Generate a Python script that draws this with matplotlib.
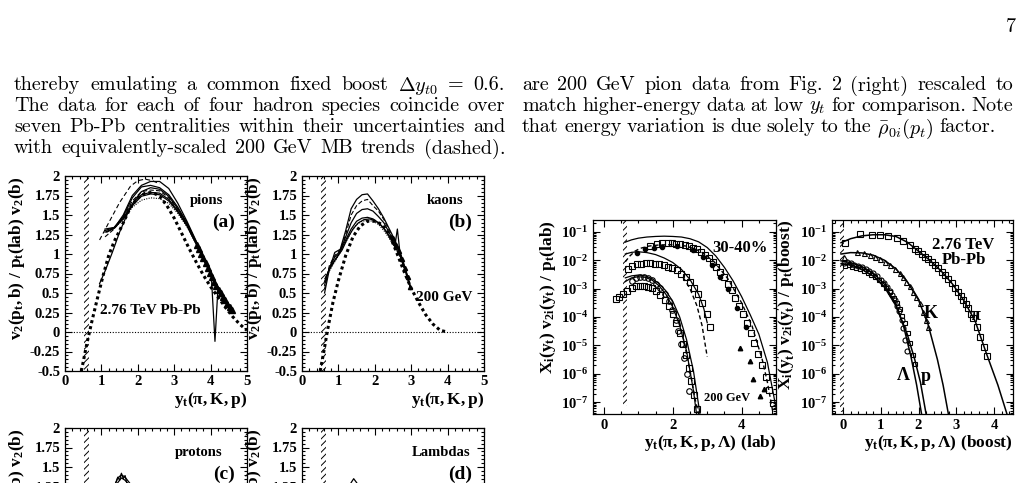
import matplotlib
matplotlib.use("Agg")
import matplotlib.pyplot as plt
import numpy as np
from matplotlib.ticker import MultipleLocator, FixedLocator, FixedFormatter, LogLocator, NullFormatter, FuncFormatter
from matplotlib.patches import Rectangle

# ------------------------------------------------------------------ text
page_number = "7"
left_text = [
    r"thereby emulating a common fixed boost $\Delta{}y_{t0}$ = 0.6.",
    "The data for each of four hadron species coincide over",
    "seven Pb-Pb centralities within their uncertainties and",
    "with equivalently-scaled 200 GeV MB trends (dashed).",
]
right_text = [
    "are 200 GeV pion data from Fig. 2 (right) rescaled to",
    r"match higher-energy data at low $y_t$ for comparison. Note",
    r"that energy variation is due solely to the $\bar{\rho}_{0i}(p_t)$ factor.",
]

# ------------------------------------------------------------------ panel (a) pions
pi_x = [1.10, 1.35, 1.60, 1.85, 2.10, 2.35, 2.60, 2.85, 3.10, 3.35, 3.60, 3.85, 4.10, 4.35, 4.60]
pi_c1 = [1.28, 1.33, 1.50, 1.75, 1.88, 1.93, 1.93, 1.84, 1.65, 1.42, 1.17, 0.92, 0.66, 0.46, 0.29]
pi_c2 = [1.30, 1.34, 1.48, 1.72, 1.86, 1.88, 1.85, 1.76, 1.60, 1.40, 1.16, 0.91, 0.66, 0.45, 0.28]
pi_c3 = [1.22, 1.32, 1.47, 1.68, 1.80, 1.82, 1.81, 1.72, 1.57, 1.38, 1.15, 0.90, 0.65, 0.45, 0.28]
pi_c4 = [1.32, 1.34, 1.46, 1.64, 1.76, 1.79, 1.78, 1.70, 1.55, 1.37, 1.14, 0.90, 0.65, 0.45, 0.27]
pi_c6 = [1.30, 1.33, 1.44, 1.60, 1.69, 1.72, 1.71, 1.65, 1.52, 1.35, 1.13, 0.89, 0.64, 0.44, 0.27]
pi_x5 = [1.15, 1.35, 1.60, 1.85, 2.10, 2.35, 2.60, 2.85, 3.10, 3.35, 3.60, 3.85, 4.02, 4.12, 4.20, 4.35, 4.60]
pi_c5 = [1.28, 1.33, 1.45, 1.62, 1.74, 1.77, 1.76, 1.68, 1.54, 1.36, 1.13, 0.89, 0.72, -0.12, 0.55, 0.44, 0.27]
pi_x7 = [0.95, 1.10, 1.30, 1.50, 1.70, 1.90, 2.10, 2.35, 2.60, 2.85, 3.10, 3.35, 3.60, 3.85, 4.10, 4.35, 4.60]
pi_c7 = [0.62, 0.78, 1.02, 1.28, 1.50, 1.68, 1.80, 1.85, 1.83, 1.74, 1.58, 1.39, 1.15, 0.90, 0.65, 0.45, 0.28]
pi_dash_x = [0.95, 1.20, 1.50, 1.80, 2.00, 2.20, 2.40, 2.60]
pi_dash_y = [1.18, 1.40, 1.66, 1.87, 1.94, 1.96, 1.94, 1.90]
pi_mb_x = [0.45, 0.60, 0.75, 0.90, 1.05, 1.20, 1.35, 1.50, 1.60, 1.80, 2.00, 2.20, 2.40, 2.60, 2.80,
           3.00, 3.20, 3.40, 3.60, 3.80, 4.00, 4.20, 4.40, 4.60, 4.80, 5.00]
pi_mb_y = [-0.50, -0.15, 0.16, 0.45, 0.73, 0.98, 1.16, 1.30, 1.40, 1.60, 1.72, 1.78, 1.79, 1.74, 1.62,
           1.46, 1.27, 1.08, 0.90, 0.73, 0.58, 0.45, 0.32, 0.20, 0.10, 0.02]
pi_tri_x = [3.62, 3.68, 3.74, 3.80, 3.86, 3.92, 3.98, 4.04, 4.10, 4.16, 4.22, 4.28, 4.34, 4.40, 4.46, 4.52, 4.58]
pi_tri_y = [1.12, 1.06, 1.00, 0.95, 0.88, 0.82, 0.76, 0.70, 0.64, 0.59, 0.54, 0.50, 0.45, 0.41, 0.36, 0.32, 0.28]

# ------------------------------------------------------------------ panel (b) kaons
k_x = [0.62, 0.75, 0.90, 1.05, 1.20, 1.35, 1.50, 1.65, 1.80, 1.95, 2.10, 2.25, 2.40, 2.55, 2.70, 2.85, 2.98]
k_c1 = [0.50, 0.80, 1.02, 1.06, 1.30, 1.58, 1.70, 1.76, 1.77, 1.68, 1.58, 1.46, 1.32, 1.18, 1.02, 0.80, 0.58]
k_c2 = [0.55, 0.85, 0.98, 1.05, 1.25, 1.50, 1.62, 1.68, 1.70, 1.62, 1.55, 1.44, 1.30, 1.16, 1.00, 0.79, 0.57]
k_c3 = [0.60, 0.82, 0.96, 1.04, 1.22, 1.40, 1.52, 1.57, 1.58, 1.55, 1.48, 1.40, 1.27, 1.14, 0.99, 0.78, 0.57]
k_c4 = [0.65, 0.80, 0.92, 1.03, 1.18, 1.32, 1.42, 1.46, 1.47, 1.45, 1.40, 1.33, 1.22, 1.10, 0.97, 0.77, 0.56]
k_c6 = [0.68, 0.78, 0.90, 1.02, 1.15, 1.28, 1.38, 1.42, 1.43, 1.42, 1.38, 1.30, 1.20, 1.08, 0.96, 0.76, 0.55]
k_x5 = [0.65, 0.80, 0.95, 1.10, 1.25, 1.40, 1.55, 1.70, 1.85, 2.00, 2.15, 2.30, 2.45, 2.55, 2.62, 2.70, 2.85, 2.98]
k_c5 = [0.70, 0.85, 0.95, 1.05, 1.20, 1.32, 1.40, 1.44, 1.45, 1.43, 1.38, 1.30, 1.20, 1.10, 1.32, 0.98, 0.78, 0.56]
k_tri_x = [2.50, 2.58, 2.66, 2.74, 2.82, 2.90, 2.98]
k_tri_y = [1.20, 1.12, 1.04, 0.94, 0.82, 0.70, 0.58]
k_mb_x = [0.50, 0.60, 0.70, 0.85, 1.00, 1.20, 1.40, 1.60, 1.80, 2.00, 2.20, 2.40, 2.60, 2.80, 3.00,
          3.20, 3.40, 3.60, 3.80, 4.00]
k_mb_y = [-0.50, -0.25, 0.02, 0.38, 0.66, 0.98, 1.22, 1.36, 1.42, 1.42, 1.38, 1.25, 1.02, 0.78, 0.56,
          0.38, 0.22, 0.10, 0.02, 0.00]

# ------------------------------------------------------------------ panels (c),(d) (top part only)
p_x = [0.90, 1.10, 1.30, 1.45, 1.55, 1.65, 1.80, 2.00, 2.30]
p_c1 = [0.60, 0.90, 1.20, 1.36, 1.40, 1.37, 1.28, 1.10, 0.80]
p_c2 = [0.60, 0.90, 1.15, 1.30, 1.36, 1.33, 1.25, 1.08, 0.78]
p_w_x = [1.40, 1.45, 1.50, 1.55, 1.60, 1.65, 1.70]
p_w_y = [1.30, 1.37, 1.33, 1.42, 1.35, 1.39, 1.29]
l_x = [1.00, 1.20, 1.35, 1.42, 1.50, 1.70]
l_y = [0.90, 1.15, 1.30, 1.35, 1.30, 1.15]

# ------------------------------------------------------------------ lab-frame log panel (log10 values)
lab_pi_sq_x = [1.34, 1.55, 1.70, 1.85, 1.98, 2.10, 2.22, 2.34, 2.46, 2.58, 2.70, 2.82, 2.94, 3.05, 3.16,
               3.27, 3.38, 3.49, 3.60, 3.71, 3.82, 3.93, 4.04, 4.15, 4.26, 4.37, 4.48, 4.59, 4.70, 4.80, 4.90, 4.97]
lab_pi_sq_lg = [-1.48, -1.42, -1.40, -1.39, -1.40, -1.41, -1.43, -1.46, -1.50, -1.55, -1.62, -1.70, -1.80,
                -1.92, -2.06, -2.22, -2.40, -2.60, -2.82, -3.06, -3.32, -3.60, -3.90, -4.22, -4.56, -4.92,
                -5.30, -5.70, -6.12, -6.56, -7.02, -7.35]
lab_pi_line_x = [0.62, 0.80, 1.00, 1.25, 1.50, 1.75, 2.00, 2.25, 2.50, 2.75, 3.00, 3.25, 3.50, 3.75,
                 4.00, 4.25, 4.50, 4.75, 5.00]
lab_pi_line_lg = [-1.36, -1.28, -1.22, -1.18, -1.16, -1.15, -1.16, -1.18, -1.24, -1.35, -1.55, -1.85,
                  -2.25, -2.72, -3.28, -3.92, -4.60, -5.60, -7.20]
lab_pi_dash_x = [0.62, 0.75, 0.90, 1.05, 1.30, 1.60, 2.00, 2.40, 2.80, 3.20, 3.60, 4.00, 4.30, 4.60, 4.75, 4.90]
lab_pi_dash_lg = [-2.05, -1.85, -1.68, -1.58, -1.50, -1.46, -1.45, -1.50, -1.68, -2.05, -2.65, -3.50,
                  -4.30, -5.50, -6.30, -7.30]
lab_pi200_x = [0.95, 1.19, 1.45, 1.70, 2.11, 2.60, 2.89, 3.13, 3.37, 3.61, 3.86, 4.12]
lab_pi200_lg = [-1.75, -1.62, -1.55, -1.52, -1.49, -1.64, -1.87, -2.16, -2.60, -3.00, -3.70, -4.35]
lab_pi200_tri_x = [3.95, 4.24, 4.34, 4.53, 4.66]
lab_pi200_tri_lg = [-5.10, -5.55, -6.20, -6.80, -6.55]
lab_k_sq_x = [0.70, 0.82, 0.95, 1.08, 1.21, 1.34, 1.47, 1.60, 1.73, 1.86, 1.99, 2.12, 2.25, 2.38, 2.50,
              2.62, 2.74, 2.86, 2.98, 3.08]
lab_k_sq_lg = [-2.30, -2.20, -2.14, -2.12, -2.11, -2.11, -2.12, -2.14, -2.17, -2.22, -2.28, -2.36, -2.47,
               -2.60, -2.76, -2.96, -3.20, -3.50, -3.90, -4.35]
lab_k_line_x = [0.62, 0.80, 1.00, 1.25, 1.50, 1.75, 2.00, 2.25, 2.50, 2.75, 2.90, 3.00]
lab_k_line_lg = [-1.78, -1.72, -1.70, -1.73, -1.80, -1.92, -2.08, -2.32, -2.68, -3.20, -3.70, -4.20]
lab_k_dash_x = [2.30, 2.50, 2.70, 2.85, 3.00]
lab_k_dash_lg = [-2.60, -3.00, -3.60, -4.30, -5.40]
lab_p_sq_x = [0.35, 0.45, 0.55, 0.68, 0.80, 0.92, 1.04, 1.16, 1.28, 1.40, 1.52, 1.64, 1.76, 1.88, 2.00,
              2.10, 2.20, 2.30, 2.38, 2.46, 2.54, 2.62, 2.70]
lab_p_sq_lg = [-3.38, -3.30, -3.20, -3.10, -2.98, -2.92, -2.90, -2.90, -2.93, -2.99, -3.08, -3.22, -3.40,
               -3.62, -3.90, -4.20, -4.55, -4.95, -5.35, -5.80, -6.25, -6.75, -7.25]
lab_l_ci_x = [0.80, 0.92, 1.04, 1.16, 1.28, 1.40, 1.52, 1.64, 1.76, 1.88, 1.98, 2.08, 2.16, 2.24, 2.32,
              2.40, 2.48]
lab_l_ci_lg = [-2.72, -2.62, -2.58, -2.58, -2.62, -2.70, -2.82, -2.98, -3.18, -3.45, -3.75, -4.12, -4.50,
               -4.95, -5.45, -6.00, -6.60]
lab_p_line_x = [0.62, 0.80, 1.00, 1.20, 1.40, 1.60, 1.80, 2.00, 2.20, 2.40, 2.60, 2.79]
lab_p_line_lg = [-2.62, -2.55, -2.52, -2.55, -2.65, -2.82, -3.08, -3.45, -4.00, -4.80, -5.90, -7.42]
lab_l_line_x = [0.62, 0.80, 1.00, 1.20, 1.40, 1.60, 1.80, 2.00, 2.20, 2.40, 2.60, 2.69]
lab_l_line_lg = [-2.75, -2.62, -2.58, -2.60, -2.70, -2.90, -3.20, -3.65, -4.30, -5.20, -6.60, -7.42]
lab_p_dash_x = [2.20, 2.35, 2.50, 2.65, 2.75]
lab_p_dash_lg = [-4.20, -5.00, -5.90, -6.90, -7.42]

# ------------------------------------------------------------------ boost-frame log panel (log10 values)
b_pi_sq_x = [0.05, 0.45, 0.76, 0.98, 1.20, 1.42, 1.60, 1.77, 1.90, 1.99, 2.08, 2.17, 2.26, 2.35, 2.44,
             2.52, 2.61, 2.70, 2.79, 2.88, 2.96, 3.05, 3.12, 3.18, 3.25, 3.32, 3.39, 3.45, 3.54, 3.63, 3.72, 3.80]
b_pi_sq_lg = [-1.40, -1.07, -1.12, -1.12, -1.13, -1.20, -1.32, -1.47, -1.60, -1.69, -1.78, -1.87, -1.96,
              -2.05, -2.16, -2.28, -2.40, -2.52, -2.66, -2.81, -2.96, -3.11, -3.26, -3.40, -3.55, -3.70,
              -3.88, -4.05, -4.35, -4.70, -5.06, -5.38]
b_pi_line_x = [-0.05, 0.20, 0.50, 0.80, 1.10, 1.40, 1.70, 2.00, 2.30, 2.60, 2.90, 3.20, 3.50, 3.80, 4.10, 4.34]
b_pi_line_lg = [-1.38, -1.24, -1.14, -1.10, -1.10, -1.16, -1.36, -1.68, -2.00, -2.38, -2.84, -3.42, -4.15,
                -5.30, -6.40, -7.42]
b_k_x = [0.03, 0.36, 0.55, 0.71, 0.84, 0.97, 1.10, 1.24, 1.37, 1.50, 1.60, 1.68, 1.77, 1.85, 1.94, 2.03,
         2.12, 2.21, 2.25]
b_k_lg = [-1.90, -1.72, -1.76, -1.81, -1.88, -1.95, -2.05, -2.16, -2.30, -2.46, -2.60, -2.75, -2.92, -3.11,
          -3.30, -3.52, -3.81, -4.11, -4.35]
b_k_line_x = [-0.05, 0.20, 0.50, 0.80, 1.10, 1.40, 1.70, 2.00, 2.25, 2.50, 2.65, 2.79]
b_k_line_lg = [-1.78, -1.73, -1.74, -1.82, -2.00, -2.30, -2.75, -3.40, -4.25, -5.50, -6.40, -7.42]
b_l_x = [0.02, 0.10, 0.20, 0.30, 0.40, 0.50, 0.60, 0.70, 0.80, 0.90, 1.00, 1.08, 1.16, 1.24, 1.31, 1.37,
         1.43, 1.49, 1.55, 1.60, 1.65, 1.69]
b_l_lg = [-2.08, -2.05, -2.10, -2.15, -2.20, -2.25, -2.32, -2.38, -2.46, -2.56, -2.68, -2.80, -2.94, -3.08,
          -3.24, -3.40, -3.60, -3.80, -4.10, -4.40, -4.80, -5.20]
b_p_x = [0.05, 0.15, 0.25, 0.35, 0.45, 0.55, 0.65, 0.75, 0.85, 0.95, 1.05, 1.15, 1.25, 1.35, 1.43, 1.50,
         1.57, 1.64, 1.71, 1.78, 1.85, 1.91]
b_p_lg = [-2.20, -2.18, -2.22, -2.27, -2.32, -2.38, -2.45, -2.52, -2.60, -2.70, -2.82, -2.96, -3.12, -3.32,
          -3.52, -3.72, -3.95, -4.22, -4.55, -4.92, -5.35, -5.65]
b_l_line_x = [-0.05, 0.20, 0.50, 0.80, 1.10, 1.40, 1.60, 1.80, 1.95, 2.08]
b_l_line_lg = [-2.02, -2.08, -2.22, -2.45, -2.85, -3.55, -4.30, -5.40, -6.40, -7.42]
b_p_line_x = [-0.05, 0.20, 0.50, 0.80, 1.10, 1.40, 1.70, 1.90, 2.05, 2.20]
b_p_line_lg = [-2.12, -2.16, -2.32, -2.55, -2.95, -3.60, -4.60, -5.50, -6.30, -7.42]

lin_ytick_vals = [-0.5, -0.25, 0, 0.25, 0.5, 0.75, 1, 1.25, 1.5, 1.75, 2]
lin_ytick_txt = ["-0.5", "-0.25", "0", "0.25", "0.5", "0.75", "1", "1.25", "1.5", "1.75", "2"]

# ------------------------------------------------------------------ style
W, H = 1029, 483
plt.rcParams["mathtext.fontset"] = "custom"
plt.rcParams["mathtext.rm"] = "Liberation Serif:bold"
plt.rcParams["mathtext.it"] = "Liberation Serif:bold"
plt.rcParams["mathtext.bf"] = "Liberation Serif:bold"
plt.rcParams["mathtext.fallback"] = "stix"
plt.rcParams["font.family"] = ["Liberation Serif", "DejaVu Serif"]
plt.rcParams["font.weight"] = "bold"
plt.rcParams["axes.labelweight"] = "bold"
plt.rcParams["hatch.linewidth"] = 0.7
plt.rcParams["axes.linewidth"] = 0.9

fig = plt.figure(figsize=(W / 100, H / 100), dpi=100)
fig.patch.set_facecolor("white")


def px_axes(l, t, r, b):
    return fig.add_axes([l / W, 1 - b / H, (r - l) / W, (b - t) / H])


def ticks_style(ax):
    ax.tick_params(which="both", direction="in", top=True, right=True, width=0.8, labelsize=10.5)
    ax.tick_params(which="major", length=5)
    ax.tick_params(which="minor", length=2.5)
    for lab in ax.get_xticklabels() + ax.get_yticklabels():
        lab.set_fontweight("bold")


def lin_panel(ax, name, letter, name_x):
    ax.set_xlim(0, 5)
    ax.set_ylim(-0.5, 2)
    ax.xaxis.set_major_locator(MultipleLocator(1))
    ax.xaxis.set_minor_locator(MultipleLocator(0.2))
    ax.yaxis.set_major_locator(FixedLocator(lin_ytick_vals))
    ax.yaxis.set_major_formatter(FixedFormatter(lin_ytick_txt))
    ax.yaxis.set_minor_locator(MultipleLocator(0.05))
    ticks_style(ax)
    ax.tick_params(axis="x", pad=3)
    ax.axhline(0, color="black", lw=0.8, ls=(0, (1, 1.5)))
    ax.add_patch(Rectangle((0.52, -0.5), 0.14, 2.5, fill=False, hatch="/////", lw=0, edgecolor="black"))
    ax.text(name_x, 1.69, name, fontsize=10.5, fontweight="bold", ha="left", va="center")
    ax.text(4.68, 1.41, letter, fontsize=14, fontweight="bold", ha="right", va="center")
    ax.set_ylabel(r"$v_2(p_t,b)\ /\ p_t(lab)\ v_2(b)$", fontsize=12.5, loc="top", labelpad=2)
    ax.set_xlabel(r"$y_t(\pi,K,p)$", fontsize=12.5, loc="right", labelpad=1)


thin = dict(color="black", lw=0.9)

# (a)
axa = px_axes(65, 176, 247, 371)
lin_panel(axa, "pions", "(a)", 3.43)
axa.plot(pi_x, pi_c1, **thin)
axa.plot(pi_x, pi_c2, **thin)
axa.plot(pi_x, pi_c3, color="black", lw=0.8, ls=(0, (4, 2)))
axa.plot(pi_x, pi_c4, **thin)
axa.plot(pi_x5, pi_c5, **thin)
axa.plot(pi_x, pi_c6, color="black", lw=0.8, ls=(0, (1, 1.2)))
axa.plot(pi_x7, pi_c7, **thin)
axa.plot(pi_dash_x, pi_dash_y, color="black", lw=0.8, ls=(0, (4, 2.5)))
axa.plot(pi_mb_x, pi_mb_y, color="black", lw=2.2, ls=(0, (1, 1)))
axa.plot(pi_tri_x, pi_tri_y, ls="none", marker="^", ms=4, color="black")
axa.text(0.96, 0.27, "2.76 TeV Pb-Pb", fontsize=11, fontweight="bold", ha="left", va="center")

# (b)
axb = px_axes(302, 176, 484, 371)
lin_panel(axb, "kaons", "(b)", 3.43)
axb.plot(k_x, k_c1, **thin)
axb.plot(k_x, k_c2, color="black", lw=0.8, ls=(0, (4, 2)))
axb.plot(k_x, k_c3, **thin)
axb.plot(k_x, k_c4, **thin)
axb.plot(k_x5, k_c5, **thin)
axb.plot(k_x, k_c6, color="black", lw=0.8, ls=(0, (1, 1.2)))
axb.plot(k_tri_x, k_tri_y, ls="none", marker="^", ms=3, color="black")
axb.plot(k_mb_x, k_mb_y, color="black", lw=2.2, ls=(0, (1, 1)))
axb.text(4.68, 0.44, "200 GeV", fontsize=11, fontweight="bold", ha="right", va="center")

# (c), (d) only top visible
axc = px_axes(65, 428, 247, 623)
lin_panel(axc, "protons", "(c)", 3.02)
axc.plot(p_x, p_c1, **thin)
axc.plot(p_x, p_c2, **thin)
axc.plot(p_w_x, p_w_y, **thin)
axd = px_axes(302, 428, 484, 623)
lin_panel(axd, "Lambdas", "(d)", 3.01)
axd.plot(l_x, l_y, **thin)


# ------------------------------------------------------------------ log panels
def lg(v):
    return [10.0 ** e for e in v]


def log_panel(ax, xmin, xmax, xmaj, xmin_step, ylab, xlab):
    ax.set_yscale("log")
    ax.set_xlim(xmin, xmax)
    ax.set_ylim(10 ** -7.42, 10 ** -0.58)
    ax.xaxis.set_major_locator(MultipleLocator(xmaj))
    ax.xaxis.set_minor_locator(MultipleLocator(xmin_step))
    ax.yaxis.set_major_locator(LogLocator(base=10, numticks=20))
    ax.yaxis.set_minor_locator(LogLocator(base=10, subs=np.arange(2, 10), numticks=20))
    ax.yaxis.set_minor_formatter(NullFormatter())
    ax.yaxis.set_major_formatter(FuncFormatter(lambda v, p: r"$\mathbf{10^{%d}}$" % int(round(np.log10(v)))))
    ax.xaxis.set_major_formatter(FuncFormatter(lambda v, p: "%d" % int(round(v))))
    ticks_style(ax)
    ax.set_ylabel(ylab, fontsize=12.5, loc="top", labelpad=2)
    ax.set_xlabel(xlab, fontsize=12.5, loc="right", labelpad=1)


axl = px_axes(593, 220, 776, 414)
log_panel(axl, -0.32, 5.0, 2, 0.5, r"$X_i(y_t)\ v_{2i}(y_t)\ /\ p_t(lab)$", r"$y_t(\pi,K,p,\Lambda)\ (lab)$")
axl.add_patch(Rectangle((0.56, 10 ** -7.15), 0.1, 1.0, fill=False, hatch="/////", lw=0, edgecolor="black"))
sq = dict(ls="none", marker="s", mfc="none", mec="black", mew=0.8)
axl.plot(lab_pi_line_x, lg(lab_pi_line_lg), **thin)
axl.plot(lab_k_line_x, lg(lab_k_line_lg), **thin)
axl.plot(lab_p_line_x, lg(lab_p_line_lg), **thin)
axl.plot(lab_l_line_x, lg(lab_l_line_lg), **thin)
axl.plot(lab_pi_dash_x, lg(lab_pi_dash_lg), color="black", lw=1.0, ls=(0, (3, 2)))
axl.plot(lab_k_dash_x, lg(lab_k_dash_lg), color="black", lw=1.0, ls=(0, (3, 2)))
axl.plot(lab_p_dash_x, lg(lab_p_dash_lg), color="black", lw=1.0, ls=(0, (3, 2)))
axl.plot(lab_pi_sq_x, lg(lab_pi_sq_lg), ms=4.5, **sq)
axl.plot(lab_k_sq_x, lg(lab_k_sq_lg), ms=4, **sq)
axl.plot(lab_p_sq_x, lg(lab_p_sq_lg), ms=4, **sq)
axl.plot(lab_l_ci_x, lg(lab_l_ci_lg), ls="none", marker="o", ms=4, mfc="none", mec="black", mew=0.8)
axl.plot(lab_pi200_x, lg(lab_pi200_lg), ls="none", marker="o", ms=3.0, color="black")
axl.plot(lab_pi200_tri_x, lg(lab_pi200_tri_lg), ls="none", marker="^", ms=3.2, color="black")
axl.text(3.95, 10 ** -1.58, "30-40%", fontsize=12, fontweight="bold", ha="center", va="center")
axl.text(3.59, 10 ** -6.87, "200 GeV", fontsize=9, fontweight="bold", ha="center", va="center")

axr = px_axes(832, 220, 1013, 414)
log_panel(axr, -0.29, 4.5, 1, 0.2, r"$X_i(y^{\prime}_t)\ v_{2i}(y^{\prime}_t)\ /\ p_t(boost)$",
          r"$y_t(\pi,K,p,\Lambda)\ (boost)$")
axr.add_patch(Rectangle((-0.08, 10 ** -7.35), 0.1, 1.0, fill=False, hatch="/////", lw=0, edgecolor="black"))
axr.plot(b_pi_line_x, lg(b_pi_line_lg), color="black", lw=1.1)
axr.plot(b_k_line_x, lg(b_k_line_lg), color="black", lw=1.1)
axr.plot(b_l_line_x, lg(b_l_line_lg), color="black", lw=1.1)
axr.plot(b_p_line_x, lg(b_p_line_lg), color="black", lw=1.1)
axr.plot(b_pi_sq_x, lg(b_pi_sq_lg), ms=3.8, **sq)
axr.plot(b_k_x, lg(b_k_lg), ls="none", marker="^", ms=3.6, mfc="none", mec="black", mew=0.8)
axr.plot(b_l_x, lg(b_l_lg), ls="none", marker="o", ms=3.6, mfc="none", mec="black", mew=0.8)
axr.plot(b_p_x, lg(b_p_lg), ms=3.4, **sq)
axr.text(3.19, 10 ** -1.46, "2.76 TeV", fontsize=12, fontweight="bold", ha="center", va="center")
axr.text(3.19, 10 ** -1.99, "Pb-Pb", fontsize=12, fontweight="bold", ha="center", va="center")
axr.text(2.33, 10 ** -3.87, "K", fontsize=13, fontweight="bold", ha="center", va="center")
axr.text(3.52, 10 ** -3.93, r"$\pi$", fontsize=13, ha="center", va="center")
axr.text(1.60, 10 ** -6.05, r"$\Lambda$", fontsize=13, ha="center", va="center")
axr.text(2.20, 10 ** -6.10, "p", fontsize=13, fontweight="bold", ha="center", va="center")

# ------------------------------------------------------------------ body text (justified)
renderer = fig.canvas.get_renderer()
BODY = 14.5


def put_line(line, x0, x1, y, justify=True):
    words = line.split(" ")
    ts = [fig.text(0, 1 - y / H, w, fontsize=BODY, family="cmr10", fontweight="normal",
                   math_fontfamily="cm", va="center_baseline", ha="left") for w in words]
    ws = [t.get_window_extent(renderer).width for t in ts]
    gap = (x1 - x0 - sum(ws)) / (len(ws) - 1) if justify else 5.5
    x = x0
    for t, w in zip(ts, ws):
        t.set_x(x / W)
        x += w + gap


line_y = [83, 104, 125, 146]
for i, ln in enumerate(left_text):
    put_line(ln, 14, 505, line_y[i], justify=True)
for i, ln in enumerate(right_text):
    put_line(ln, 522, 1013, line_y[i], justify=(i < len(right_text) - 1))
fig.text(1016 / W, 1 - 25 / H, page_number, fontsize=BODY, family="cmr10", fontweight="normal",
         ha="right", va="center_baseline")

fig.savefig("out.png", dpi=100)
